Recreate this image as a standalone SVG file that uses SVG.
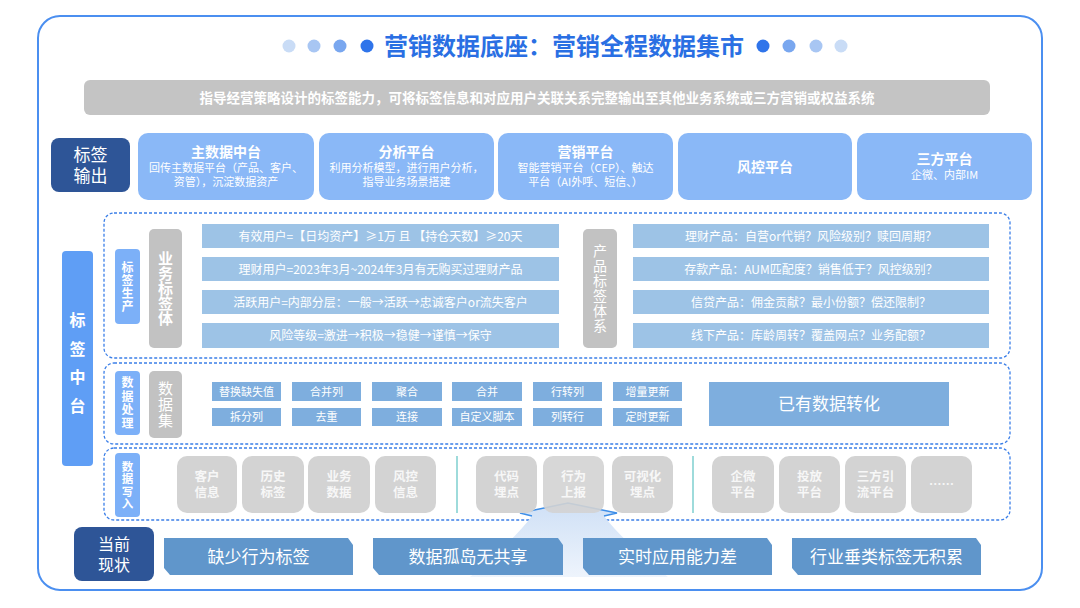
<svg xmlns="http://www.w3.org/2000/svg" width="1080" height="608" viewBox="0 0 1080 608">
<defs>
<linearGradient id="beam" x1="0" y1="0" x2="0" y2="1">
<stop offset="0" stop-color="#cfe0f6"/>
<stop offset="1" stop-color="#eef4fc"/>
</linearGradient>
<style>
text{font-family:"Noto Sans CJK SC","Liberation Sans",sans-serif;fill:#fff;text-anchor:middle}
.v{writing-mode:vertical-rl}
.dash{fill:none;stroke:#3b7fe8;stroke-width:1.3;stroke-dasharray:3 2}
.plat{fill:#8ab8f7}
.pt{font-size:14px;font-weight:bold}
.ps{font-size:11px}
.dark{fill:#2e5597}
.lbl{fill:#7cb0f8}
.gray{fill:#c2c2c2}
.row{fill:#9dc3e6}
.rt{font-size:12px}
.btn{fill:#7eaede}
.bt{font-size:11px}
.tile{fill:#d3d3d3}
.tt{font-size:12.5px;font-weight:bold;fill:#f7f7f7}
.ban{fill:#6096cb}
.bnt{font-size:17px}
</style>
</defs>
<rect x="38" y="16" width="1004" height="574" rx="22" fill="#fff" stroke="#4b8ff0" stroke-width="2"/>

<g id="title">
<circle cx="289" cy="46" r="6.5" fill="#c9dcf6"/>
<circle cx="314" cy="46" r="6.5" fill="#a8c6f3"/>
<circle cx="340" cy="46" r="6.5" fill="#79a7ef"/>
<circle cx="367" cy="46" r="6.5" fill="#2f74ea"/>
<circle cx="763" cy="46" r="6.5" fill="#2f74ea"/>
<circle cx="789" cy="46" r="6.5" fill="#79a7ef"/>
<circle cx="816" cy="46" r="6.5" fill="#a8c6f3"/>
<circle cx="841" cy="46" r="6.5" fill="#c9dcf6"/>
<text x="564" y="54.5" style="font-size:24px;font-weight:bold;fill:#2a6fe3">营销数据底座：营销全程数据集市</text>
</g>

<g id="banner">
<rect x="84" y="80" width="906" height="35" rx="6" fill="#c4c4c4"/>
<text x="537" y="102.5" style="font-size:13.5px;font-weight:bold">指导经营策略设计的标签能力，可将标签信息和对应用户关联关系完整输出至其他业务系统或三方营销或权益系统</text>
</g>

<g id="output-label">
<rect class="dark" x="51" y="138" width="79" height="54" rx="8"/>
<text x="90.5" y="161" style="font-size:17px">标签</text>
<text x="90.5" y="182" style="font-size:17px">输出</text>
</g>
<g id="p1">
<rect class="plat" x="138" y="133" width="176" height="67" rx="10"/>
<text class="pt" x="226" y="157">主数据中台</text>
<text class="ps" x="226" y="172">回传主数据平台（产品、客户、</text>
<text class="ps" x="226" y="186">资管），沉淀数据资产</text>
</g>
<g id="p2">
<rect class="plat" x="319" y="133" width="175" height="67" rx="10"/>
<text class="pt" x="406.5" y="157">分析平台</text>
<text class="ps" x="406.5" y="172">利用分析模型，进行用户分析，</text>
<text class="ps" x="406.5" y="186">指导业务场景搭建</text>
</g>
<g id="p3">
<rect class="plat" x="498" y="133" width="175" height="67" rx="10"/>
<text class="pt" x="585.5" y="157">营销平台</text>
<text class="ps" x="585.5" y="172">智能营销平台（CEP）、触达</text>
<text class="ps" x="585.5" y="186">平台（AI外呼、短信、）</text>
</g>
<g id="p4">
<rect class="plat" x="678" y="133" width="174" height="67" rx="10"/>
<text class="pt" x="765" y="171.5">风控平台</text>
</g>
<g id="p5">
<rect class="plat" x="857" y="133" width="175" height="67" rx="10"/>
<text class="pt" x="944.5" y="164">三方平台</text>
<text class="ps" x="944.5" y="179">企微、内部IM</text>
</g>

<g id="middle-label">
<rect x="62" y="251" width="31" height="215" rx="4" fill="#5f9ef5"/>
<text class="v" x="77.5" y="369" style="font-size:16px;font-weight:bold;letter-spacing:12.5px">标签中台</text>
</g>

<g id="sections">
<rect class="dash" x="104" y="213" width="906" height="145" rx="10"/>
<rect class="dash" x="104" y="363" width="906" height="81" rx="10"/>
<rect class="dash" x="104" y="448" width="906" height="72" rx="10"/>
</g>

<g id="tag-production">
<rect class="lbl" x="115" y="249" width="25" height="75" rx="4"/>
<text class="v" x="127.5" y="287.5" style="font-size:12px;font-weight:bold;letter-spacing:1px">标签生产</text>
<rect class="gray" x="149" y="229" width="33" height="119" rx="5"/>
<text class="v" x="165.5" y="288.5" style="font-size:15px;font-weight:bold">业务标签体</text>
<rect class="row" x="202" y="224" width="357" height="24"/>
<text class="rt" x="380.5" y="240.5">有效用户=【日均资产】≥1万 且 【持仓天数】≥20天</text>
<rect class="row" x="202" y="257" width="357" height="24"/>
<text class="rt" x="380.5" y="273.5">理财用户=2023年3月~2024年3月有无购买过理财产品</text>
<rect class="row" x="202" y="290" width="357" height="24"/>
<text class="rt" x="380.5" y="306.5">活跃用户=内部分层：一般→活跃→忠诚客户or流失客户</text>
<rect class="row" x="202" y="323" width="357" height="25"/>
<text class="rt" x="380.5" y="340">风险等级=激进→积极→稳健→谨慎→保守</text>
<rect class="gray" x="583" y="229" width="34" height="119" rx="5"/>
<text class="v" x="600" y="289" style="font-size:14px;letter-spacing:1px">产品标签体系</text>
<rect class="row" x="633" y="224" width="356" height="24"/>
<text class="rt" x="811" y="240.5">理财产品：自营or代销？风险级别？赎回周期？</text>
<rect class="row" x="633" y="257" width="356" height="24"/>
<text class="rt" x="811" y="273.5">存款产品：AUM匹配度？销售低于？风控级别？</text>
<rect class="row" x="633" y="290" width="356" height="24"/>
<text class="rt" x="811" y="306.5">信贷产品：佣金贡献？最小份额？偿还限制？</text>
<rect class="row" x="633" y="323" width="356" height="25"/>
<text class="rt" x="811" y="340">线下产品：库龄周转？覆盖网点？业务配额？</text>
</g>

<g id="data-processing">
<rect class="lbl" x="115" y="371" width="25" height="64" rx="4"/>
<text class="v" x="127.5" y="403.5" style="font-size:12px;font-weight:bold;letter-spacing:1.5px">数据处理</text>
<rect class="gray" x="149" y="371" width="33" height="67" rx="5"/>
<text class="v" x="165.5" y="405" style="font-size:15px;letter-spacing:1px">数据集</text>
<rect class="btn" x="212" y="382" width="69" height="19"/><text class="bt" x="246.5" y="395.5">替换缺失值</text>
<rect class="btn" x="292" y="382" width="69" height="19"/><text class="bt" x="326.5" y="395.5">合并列</text>
<rect class="btn" x="372" y="382" width="70" height="19"/><text class="bt" x="407" y="395.5">聚合</text>
<rect class="btn" x="452" y="382" width="70" height="19"/><text class="bt" x="487" y="395.5">合并</text>
<rect class="btn" x="533" y="382" width="69" height="19"/><text class="bt" x="567.5" y="395.5">行转列</text>
<rect class="btn" x="613" y="382" width="69" height="19"/><text class="bt" x="647.5" y="395.5">增量更新</text>
<rect class="btn" x="212" y="408" width="69" height="18"/><text class="bt" x="246.5" y="421">拆分列</text>
<rect class="btn" x="292" y="408" width="69" height="18"/><text class="bt" x="326.5" y="421">去重</text>
<rect class="btn" x="372" y="408" width="70" height="18"/><text class="bt" x="407" y="421">连接</text>
<rect class="btn" x="452" y="408" width="70" height="18"/><text class="bt" x="487" y="421">自定义脚本</text>
<rect class="btn" x="533" y="408" width="69" height="18"/><text class="bt" x="567.5" y="421">列转行</text>
<rect class="btn" x="613" y="408" width="69" height="18"/><text class="bt" x="647.5" y="421">定时更新</text>
<rect class="btn" x="709" y="382" width="240" height="44"/>
<text x="829" y="410" style="font-size:17px">已有数据转化</text>
</g>

<g id="beam">
<path d="M520,513 L568,503 L617,513 L604,516 Q622,540 668,577 L470,577 Q514,540 532,516 Z" fill="url(#beam)"/>
<path d="M532,516 L520,513 L568,503 L617,513 L604,516" fill="none" stroke="#3d8ee8" stroke-width="1.5"/>
</g>

<g id="data-write">
<rect class="lbl" x="115" y="453" width="25" height="64" rx="4"/>
<text class="v" x="127.5" y="485.5" style="font-size:11.5px;font-weight:bold;letter-spacing:1px">数据写入</text>
<rect class="tile" x="177" y="456" width="60" height="57" rx="10"/><text class="tt"><tspan x="207" y="481">客户</tspan><tspan x="207" y="497">信息</tspan></text>
<rect class="tile" x="242" y="456" width="62" height="57" rx="10"/><text class="tt"><tspan x="273" y="481">历史</tspan><tspan x="273" y="497">标签</tspan></text>
<rect class="tile" x="308" y="456" width="62" height="57" rx="10"/><text class="tt"><tspan x="339" y="481">业务</tspan><tspan x="339" y="497">数据</tspan></text>
<rect class="tile" x="375" y="456" width="61" height="57" rx="10"/><text class="tt"><tspan x="405.5" y="481">风控</tspan><tspan x="405.5" y="497">信息</tspan></text>
<line x1="457" y1="456" x2="457" y2="513" stroke="#7ecfcf" stroke-width="1.5"/>
<rect class="tile" x="476" y="456" width="61" height="57" rx="10"/><text class="tt"><tspan x="506.5" y="481">代码</tspan><tspan x="506.5" y="497">埋点</tspan></text>
<rect class="tile" x="543" y="456" width="61" height="57" rx="10" fill-opacity="0.9"/><text class="tt"><tspan x="573.5" y="481">行为</tspan><tspan x="573.5" y="497">上报</tspan></text>
<rect class="tile" x="612" y="456" width="61" height="57" rx="10"/><text class="tt"><tspan x="642.5" y="481">可视化</tspan><tspan x="642.5" y="497">埋点</tspan></text>
<line x1="693" y1="456" x2="693" y2="513" stroke="#7ecfcf" stroke-width="1.5"/>
<rect class="tile" x="712" y="456" width="62" height="57" rx="10"/><text class="tt"><tspan x="743" y="481">企微</tspan><tspan x="743" y="497">平台</tspan></text>
<rect class="tile" x="779" y="456" width="61" height="57" rx="10"/><text class="tt"><tspan x="809.5" y="481">投放</tspan><tspan x="809.5" y="497">平台</tspan></text>
<rect class="tile" x="845" y="456" width="61" height="57" rx="10"/><text class="tt"><tspan x="875.5" y="481">三方引</tspan><tspan x="875.5" y="497">流平台</tspan></text>
<rect class="tile" x="911" y="456" width="61" height="57" rx="10"/><text class="tt" x="941.5" y="489">……</text>
</g>

<g id="status">
<rect class="dark" x="74" y="527" width="80" height="54" rx="8"/>
<text x="114" y="550" style="font-size:16px">当前</text>
<text x="114" y="571" style="font-size:16px">现状</text>
<path class="ban" d="M164,538 L348,538 L353,545 L353,575 L170,575 L164,568 Z"/>
<text class="bnt" x="258.5" y="562.5">缺少行为标签</text>
<path class="ban" d="M373,538 L558,538 L563,545 L563,575 L379,575 L373,568 Z"/>
<text class="bnt" x="468" y="562.5">数据孤岛无共享</text>
<path class="ban" d="M583,538 L767,538 L772,545 L772,575 L589,575 L583,568 Z"/>
<text class="bnt" x="677.5" y="562.5">实时应用能力差</text>
<path class="ban" d="M792,538 L976,538 L981,545 L981,575 L798,575 L792,568 Z"/>
<text class="bnt" x="886.5" y="562.5">行业垂类标签无积累</text>
</g>
</svg>
